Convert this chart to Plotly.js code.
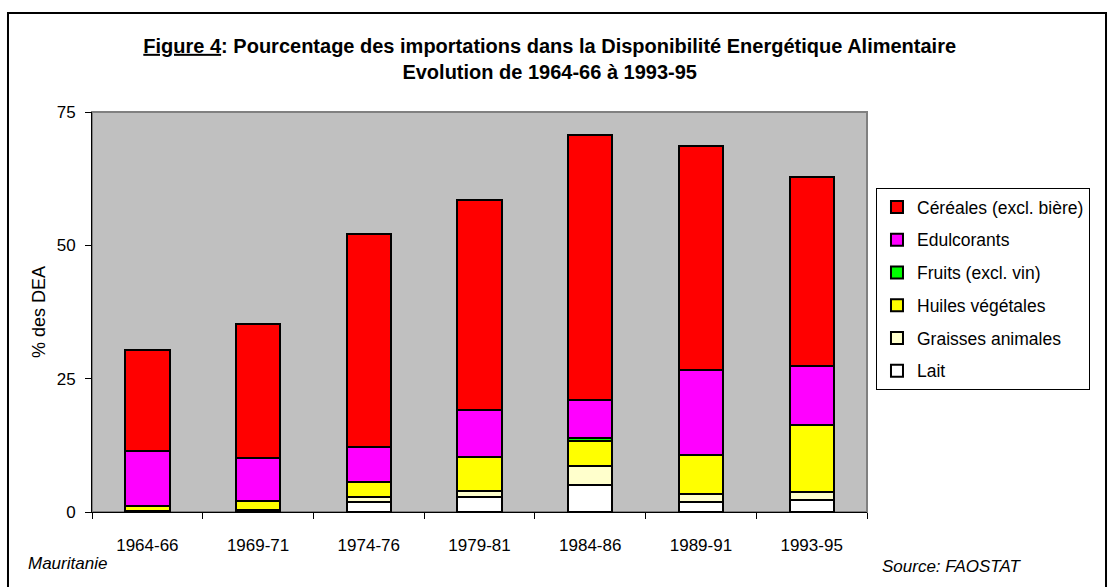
<!DOCTYPE html>
<html>
<head>
<meta charset="utf-8">
<script src="https://cdn.plot.ly/plotly-3.0.1.min.js"></script>
<style>html,body{margin:0;padding:0;background:#fff;}#chart{width:1115px;height:587px;}</style>
</head>
<body>
<div id="chart"></div>
<script>
const periods = ["1964-66", "1969-71", "1974-76", "1979-81", "1984-86", "1989-91", "1993-95"];
const lait = [0.0, 0.2, 1.8, 2.9, 5.0, 1.8, 2.2];
const graisses = [0.1, 0.2, 1.0, 1.0, 3.6, 1.5, 1.6];
const huiles = [1.0, 1.6, 2.75, 6.5, 4.7, 7.4, 12.5];
const fruits = [0.0, 0.0, 0.0, 0.0, 0.5, 0.0, 0.0];
const edulcorants = [10.3, 8.2, 6.7, 8.7, 7.2, 15.9, 11.1];
const cereales = [19.0, 25.05, 39.85, 39.4, 49.7, 42.0, 35.35];
const yTicks = [0, 25, 50, 75];

const F = '"Liberation Sans", Arial, sans-serif';

function tr(name, vals, color, rank) {
  return {
    type: 'bar', x: periods, y: vals, name: name, legendgroup: name, legendrank: rank,
    marker: {color: color, line: {color: '#000', width: 2}},
    width: 0.4, hoverinfo: 'name+y'
  };
}

const data = [
  tr('Lait', lait, '#FFFFFF', 6),
  tr('Graisses animales', graisses, '#FFFFCC', 5),
  tr('Huiles végétales', huiles, '#FFFF00', 4),
  tr('Fruits (excl. vin)', fruits, '#00FF00', 3),
  tr('Edulcorants', edulcorants, '#FF00FF', 2),
  tr('Céréales (excl. bière)', cereales, '#FF0000', 1)
];

const layout = {
  width: 1115, height: 587,
  margin: {l: 92, r: 248, t: 112, b: 75},
  paper_bgcolor: '#FFFFFF',
  plot_bgcolor: '#C0C0C0',
  barmode: 'stack',
  font: {family: F, size: 17, color: '#000'},
  title: {
    text: '<b><u>Figure 4</u>: Pourcentage des importations dans la Disponibilité Energétique Alimentaire<br>Evolution de 1964-66 à 1993-95</b>',
    font: {family: F, size: 20, color: '#000'},
    x: 0.493, xanchor: 'center', xref: 'container',
    y: 0.91, yanchor: 'top', yref: 'container'
  },
  xaxis: {
    type: 'category',
    showline: true, linecolor: '#000', linewidth: 1,
    ticks: 'outside', ticklen: 6, tickcolor: '#000', tickson: 'boundaries',
    tickfont: {family: F, size: 17},
    ticklabelstandoff: 18,
    showgrid: false, zeroline: false, mirror: false
  },
  yaxis: {
    range: [0, 75], tickvals: yTicks, ticktext: yTicks.map(String),
    showline: true, linecolor: '#000', linewidth: 1,
    ticks: 'outside', ticklen: 6, tickcolor: '#000',
    tickfont: {family: F, size: 17},
    ticklabelstandoff: 6,
    showgrid: false, zeroline: false,
    title: {text: '% des DEA', font: {family: F, size: 18}, standoff: 6}
  },
  showlegend: true,
  legend: {
    x: 1.0116, xanchor: 'left', y: 0.81, yanchor: 'top',
    bgcolor: '#FFFFFF', bordercolor: '#000', borderwidth: 1,
    font: {family: F, size: 17.5, color: '#000'},
    traceorder: 'grouped', tracegroupgap: 7
  },
  shapes: [
    {type: 'rect', xref: 'paper', yref: 'paper', x0: 0, x1: 1, y0: 0, y1: 1,
     line: {color: '#808080', width: 2}, layer: 'below'},
    {type: 'rect', xref: 'paper', yref: 'paper', x0: -0.1084, x1: 1.3084, y0: -0.2, y1: 1.2475,
     line: {color: '#000', width: 2}}
  ],
  annotations: [
    {text: '<i>Mauritanie</i>', xref: 'paper', yref: 'paper', x: -0.085, y: -0.128,
     xanchor: 'left', yanchor: 'middle', showarrow: false, font: {family: F, size: 17}},
    {text: '<i>Source: FAOSTAT</i>', xref: 'paper', yref: 'paper', x: 1.017, y: -0.135,
     xanchor: 'left', yanchor: 'middle', showarrow: false, font: {family: F, size: 17}}
  ]
};

Plotly.newPlot('chart', data, layout, {displayModeBar: false, staticPlot: true});
</script>
</body>
</html>
